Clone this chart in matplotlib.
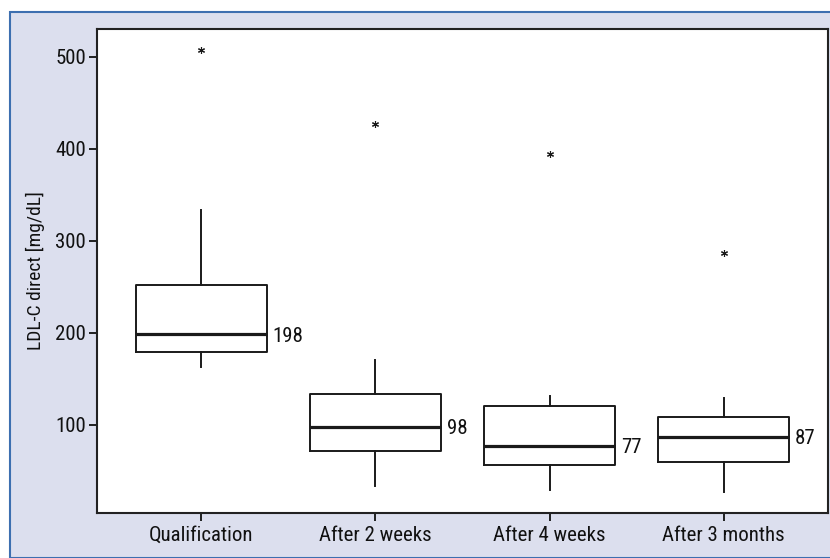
import matplotlib.pyplot as plt
from matplotlib.patches import Rectangle

# values
groups = ["Qualification", "After 2 weeks", "After 4 weeks", "After 3 months"]
whisker_low = [163, 33, 29, 27]
q1 = [179, 71, 56, 59]
medians = [198, 98, 77, 87]
q3 = [252, 133, 120, 108]
whisker_high = [333, 170, 131, 129]
outliers = [[507], [427], [394], [287]]
median_labels = ["198", "98", "77", "87"]

plt.rcParams['font.family'] = ['Roboto Condensed', 'Liberation Sans', 'DejaVu Sans']

fig = plt.figure(figsize=(8.3, 5.58), dpi=100)
fig.patch.set_facecolor('white')

# light panel behind the chart
panel = Rectangle((10 / 830, 0), 1.0, 1 - 12 / 558, transform=fig.transFigure,
                  facecolor='#dcdfee', edgecolor='#3d6fb0', linewidth=1.5, zorder=-1)
fig.patches.append(panel)

ax = fig.add_axes([97 / 830, 1 - 513 / 558, 731 / 830, 484 / 558])
ax.set_zorder(1)
ax.set_facecolor('white')

stats = []
for i, name in enumerate(groups):
    stats.append({
        'label': name,
        'whislo': whisker_low[i],
        'q1': q1[i],
        'med': medians[i],
        'q3': q3[i],
        'whishi': whisker_high[i],
        'fliers': outliers[i],
    })

positions = list(range(1, len(groups) + 1))
line_color = '#1a1a1a'
ax.bxp(stats, positions=positions, widths=0.75, showcaps=False,
       boxprops=dict(color=line_color, linewidth=1.4),
       whiskerprops=dict(color=line_color, linewidth=1.4),
       medianprops=dict(color=line_color, linewidth=2.3),
       flierprops=dict(marker=(6, 2, 0), markersize=5, markeredgecolor=line_color,
                       markeredgewidth=0.8, linestyle='none'))

for pos, med, lab in zip(positions, medians, median_labels):
    ax.text(pos + 0.41, med, lab, ha='left', va='center_baseline', fontsize=15, color='#111111')

ax.set_xlim(0.4, 4.6)
ax.set_ylim(4, 530)
ax.set_yticks([100, 200, 300, 400, 500])
ax.set_xticks(positions)
ax.set_xticklabels(groups)
ax.tick_params(axis='both', labelsize=15, colors='#111111', width=1.3, length=6, direction='out')
ax.tick_params(axis='y', pad=2)
ax.set_ylabel('LDL-C direct [mg/dL]', fontsize=14, color='#111111', labelpad=7)

for spine in ax.spines.values():
    spine.set_color('#222222')
    spine.set_linewidth(1.5)

fig.savefig('out.png', dpi=100, facecolor=fig.get_facecolor())
